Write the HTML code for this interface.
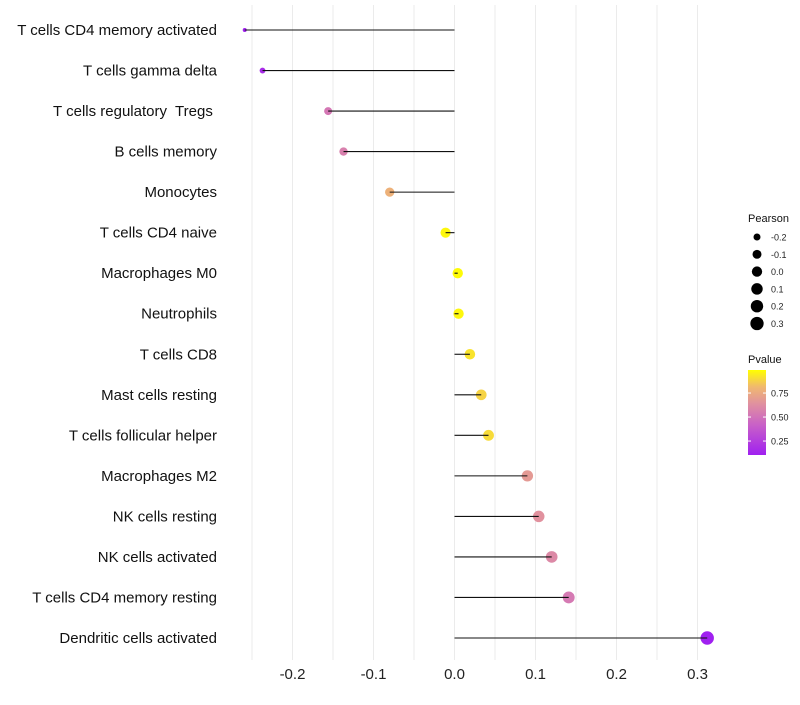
<!DOCTYPE html>
<html><head><meta charset="utf-8"><style>
body{margin:0;background:#fff;font-family:"Liberation Sans",sans-serif}
svg text{font-family:"Liberation Sans",sans-serif;white-space:pre}
</style></head><body>
<svg id="chart" width="800" height="700" xmlns="http://www.w3.org/2000/svg" xml:space="preserve">
<g id="grid"></g>
<g id="ylabels"></g>
<g id="marks"></g>
<g id="xlabels"></g>
<g id="legend"></g>
</svg>
<script>
const categories=["T cells CD4 memory activated","T cells gamma delta","T cells regulatory  Tregs ","B cells memory","Monocytes","T cells CD4 naive","Macrophages M0","Neutrophils","T cells CD8","Mast cells resting","T cells follicular helper","Macrophages M2","NK cells resting","NK cells activated","T cells CD4 memory resting","Dendritic cells activated"];
const pearson=[-0.259,-0.237,-0.156,-0.137,-0.080,-0.011,0.004,0.005,0.019,0.033,0.042,0.090,0.104,0.120,0.141,0.312];
const pvalues=[0.10,0.16,0.52,0.56,0.78,0.97,0.98,0.97,0.92,0.88,0.90,0.68,0.64,0.60,0.53,0.10];
const xTicks=[-0.2,-0.1,0.0,0.1,0.2,0.3];
const xTickLabels=["-0.2","-0.1","0.0","0.1","0.2","0.3"];
const sizeLegend=[-0.2,-0.1,0.0,0.1,0.2,0.3];
const sizeLegendLabels=["-0.2","-0.1","0.0","0.1","0.2","0.3"];
const colorLegend=[0.75,0.50,0.25];
const colorLegendLabels=["0.75","0.50","0.25"];

const NS="http://www.w3.org/2000/svg";
const x=v=>454.5+v*810;
const y=i=>30+i*(608/15);
const r=v=>2+4.7*Math.sqrt(Math.max(0,(v+0.259)/0.571));
const stops=[[0,[160,32,240]],[0.35,[200,96,200]],[0.6,[224,144,160]],[0.8,[240,184,112]],[1,[255,255,0]]];
function col(p){let t=(p-0.10)/(0.99-0.10);t=Math.max(0,Math.min(1,t));
 for(let k=1;k<stops.length;k++){if(t<=stops[k][0]){const a=stops[k-1],b=stops[k],f=(t-a[0])/(b[0]-a[0]);
 return "rgb("+a[1].map((c,j)=>Math.round(c+(b[1][j]-c)*f)).join(",")+")";}}return "rgb(255,255,0)";}
function mk(tag,attrs,parent){const e=document.createElementNS(NS,tag);for(const k in attrs)e.setAttribute(k,attrs[k]);parent.appendChild(e);return e;}
const grid=document.getElementById("grid"),marks=document.getElementById("marks"),yl=document.getElementById("ylabels"),xl=document.getElementById("xlabels"),lg=document.getElementById("legend");
for(let v=-0.25;v<=0.301;v+=0.05){const gl=mk("line",{x1:x(v),x2:x(v),y1:5,y2:660,stroke:"#ebebeb","stroke-width":1},grid);

}
xTicks.forEach((v,i)=>{const t=mk("text",{x:x(v),y:679,"text-anchor":"middle","font-size":15,fill:"#222"},xl);t.textContent=xTickLabels[i];

});
categories.forEach((c,i)=>{
 const t=mk("text",{x:217,y:y(i)+5,"text-anchor":"end","font-size":15,fill:"#111"},yl);t.textContent=c;
 
 
 const d=mk("circle",{cx:x(pearson[i]),cy:y(i),r:r(pearson[i]),fill:col(pvalues[i])},marks);
 
 
 const s=mk("line",{x1:x(0),x2:x(pearson[i]),y1:y(i),y2:y(i),stroke:"#111","stroke-width":1.1},marks);
 
 
});
const lt=mk("text",{x:748,y:222,"font-size":11,fill:"#111"},lg);lt.textContent="Pearson";


sizeLegend.forEach((v,i)=>{const cy=237+i*17.3;
 const c=mk("circle",{cx:757,cy:cy,r:r(v),fill:"#000"},lg);
 
 
 const t=mk("text",{x:771,y:cy+3.5,"font-size":9,fill:"#222"},lg);t.textContent=sizeLegendLabels[i];
 
 });
const ct=mk("text",{x:748,y:363,"font-size":11,fill:"#111"},lg);ct.textContent="Pvalue";


const defs=mk("defs",{},lg);const gr=mk("linearGradient",{id:"pg",x1:0,y1:1,x2:0,y2:0},defs);
stops.forEach(s=>mk("stop",{offset:s[0],"stop-color":"rgb("+s[1].join(",")+")"},gr));
const bar=mk("rect",{x:748,y:370,width:18,height:85,fill:"url(#pg)"},lg);


const py=p=>370+(0.99-p)*96;
colorLegend.forEach((p,i)=>{
 mk("line",{x1:748,x2:751,y1:py(p),y2:py(p),stroke:"#fff"},lg);mk("line",{x1:763,x2:766,y1:py(p),y2:py(p),stroke:"#fff"},lg);
 const t=mk("text",{x:771,y:py(p)+3.5,"font-size":9,fill:"#222"},lg);t.textContent=colorLegendLabels[i];
 
 });
</script>
</body></html>
